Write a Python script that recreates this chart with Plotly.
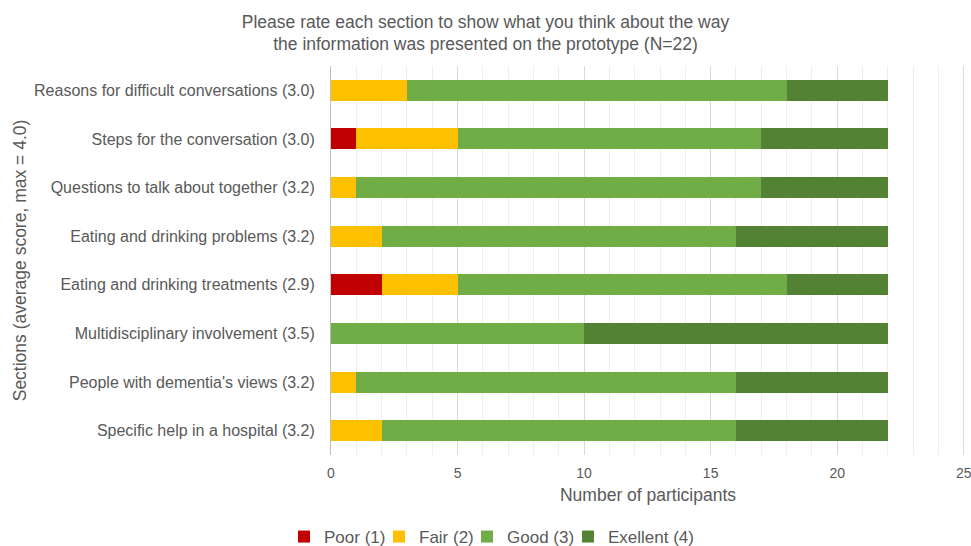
import plotly.graph_objects as go

categories = [
    "Reasons for difficult conversations (3.0)",
    "Steps for the conversation (3.0)",
    "Questions to talk about together (3.2)",
    "Eating and drinking problems (3.2)",
    "Eating and drinking treatments (2.9)",
    "Multidisciplinary involvement (3.5)",
    "People with dementia's views (3.2)",
    "Specific help in a hospital (3.2)",
]
poor = [0, 1, 0, 0, 2, 0, 0, 0]
fair = [3, 4, 1, 2, 3, 0, 1, 2]
good = [15, 12, 16, 14, 13, 10, 15, 14]
excellent = [4, 5, 5, 6, 4, 12, 6, 6]

series = [
    ("Poor (1)", poor, "#C00000", 50),
    ("Fair (2)", fair, "#FFC000", 43),
    ("Good (3)", good, "#70AD47", 56),
    ("Exellent (4)", excellent, "#548235", 88),
]

FONT = "Liberation Sans, Arial, sans-serif"
GREY = "#595959"
W, H = 971, 546

fig = go.Figure()
for name, vals, color, lw in series:
    fig.add_trace(go.Bar(
        y=categories, x=vals, name=name, orientation="h",
        marker=dict(color=color, line=dict(width=0)),
        legendwidth=lw,
    ))

fig.update_layout(
    barmode="stack",
    bargap=0.57,
    width=W, height=H,
    margin=dict(l=331, r=6, t=66, b=91, autoexpand=False),
    paper_bgcolor="white", plot_bgcolor="white",
    font=dict(family=FONT, color=GREY, size=16),
    title=dict(
        text="Please rate each section to show what you think about the way<br>the information was presented on the prototype (N=22)",
        x=0.5, xref="container", xanchor="center",
        y=1 - 27.5 / H, yref="container", yanchor="middle",
        font=dict(size=17.5, color=GREY, family=FONT),
    ),
    legend=dict(
        orientation="h", x=0.5 + 7 / W, xref="container", xanchor="center",
        y=1 - 537 / H, yref="container", yanchor="middle",
        font=dict(size=17, color=GREY), traceorder="normal",
        itemwidth=30,
    ),
    showlegend=True,
)
fig.update_xaxes(
    range=[0, 25.05], dtick=5, tick0=0,
    showgrid=True, gridcolor="#d9d9d9", gridwidth=1,
    minor=dict(dtick=1, showgrid=True, gridcolor="#eeeeee", gridwidth=1),
    zeroline=False, showline=False,
    ticklabelstandoff=8, ticklabeloverflow="allow",
    tickfont=dict(size=14, color=GREY),
    title=dict(text="Number of participants", font=dict(size=17.5, color=GREY), standoff=8),
)
fig.update_yaxes(
    categoryorder="array", categoryarray=categories, autorange="reversed",
    showline=True, linecolor="#bfbfbf", linewidth=1,
    showgrid=False, ticks="", ticklabelstandoff=12,
    tickfont=dict(size=16, color=GREY),
    title=dict(text="Sections (average score, max = 4.0)", font=dict(size=17.5, color=GREY), standoff=2),
)

fig.write_html(
    "out.html",
    config={"displayModeBar": False},
    post_script="document.body.style.margin='0';document.body.style.overflow='hidden';",
)
